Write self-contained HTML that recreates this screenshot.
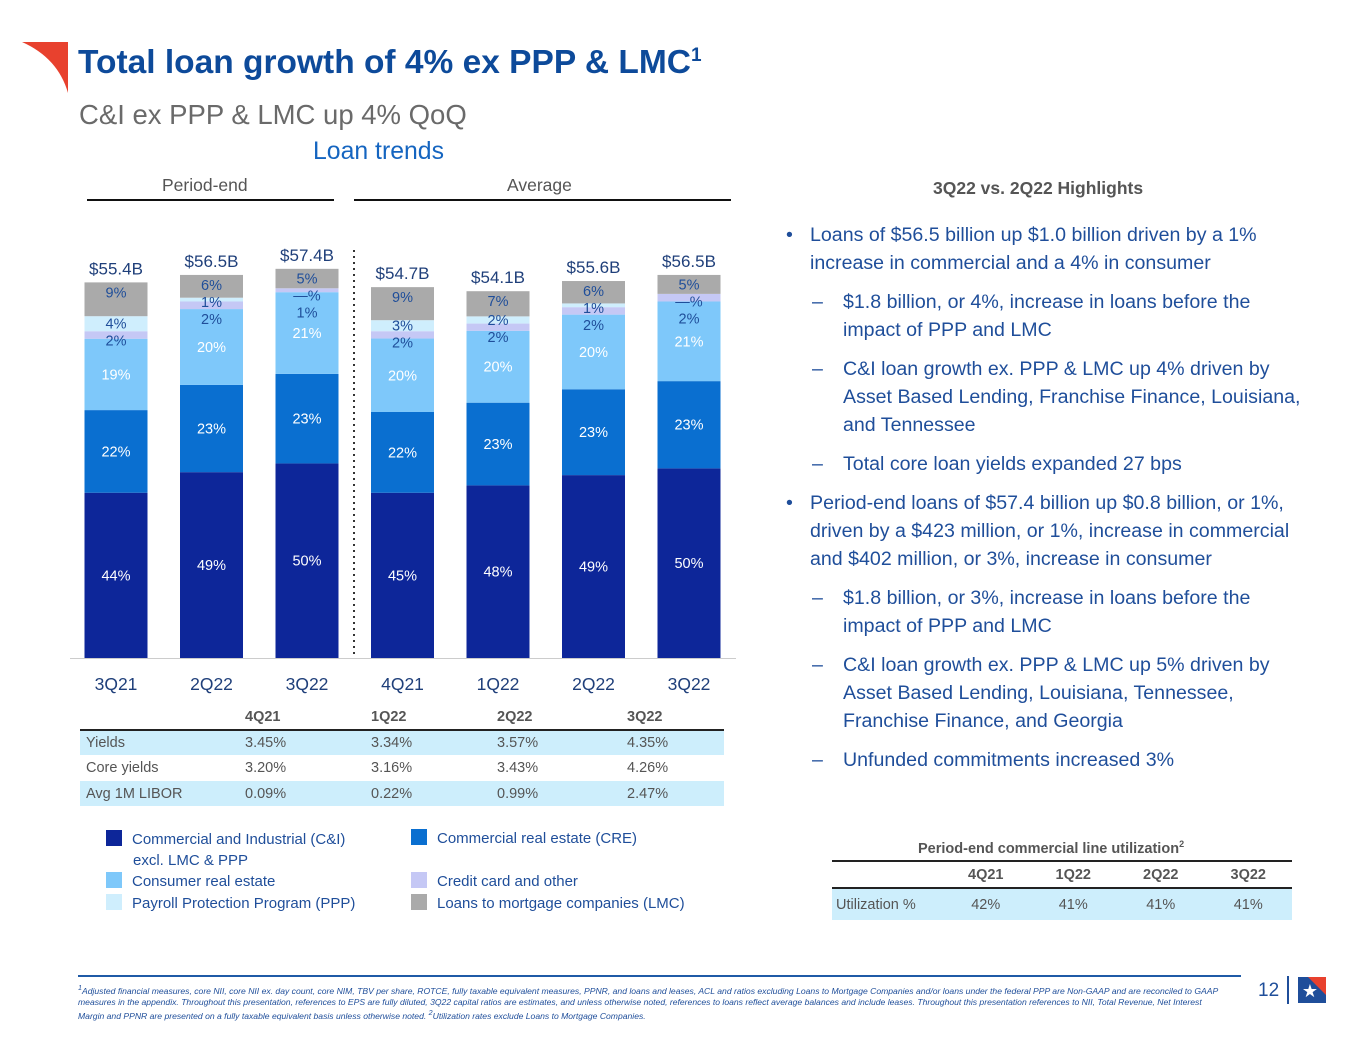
<!DOCTYPE html>
<html><head><meta charset="utf-8">
<style>
body{margin:0;width:1365px;height:1040px;background:#fff;position:relative;overflow:hidden;font-family:"Liberation Sans",sans-serif;}
.a{position:absolute;white-space:nowrap;}
.rt{font-size:19.6px;color:#1f4e9a;}
.tbl td{padding:0;}
</style></head><body>
<svg class="a" style="left:22px;top:40px" width="50" height="55"><path d="M0 2 L46 2 L46 53 Q36 18 0 2Z" fill="#e8412e"/></svg>
<div class="a" style="left:78px;top:44px;font-size:33.5px;font-weight:bold;color:#0d4a9a;letter-spacing:0px">Total loan growth of 4% ex PPP &amp; LMC<sup style="font-size:19px">1</sup></div>
<div class="a" style="left:79px;top:99px;font-size:27.5px;color:#6a6a6a">C&amp;I ex PPP &amp; LMC up 4% QoQ</div>
<div class="a" style="left:313px;top:138px;font-size:24.8px;color:#1565c0">Loan trends</div>
<div class="a" style="left:162px;top:175px;font-size:17.5px;color:#555">Period-end</div>
<div class="a" style="left:507px;top:175px;font-size:17.5px;color:#555">Average</div>

<svg id="chart" class="a" style="left:0;top:0" width="760" height="700"></svg>

<table class="a tbl" style="left:80px;top:705px;width:644px;border-collapse:collapse;font-size:14.5px;color:#555">
<tr style="height:25px;font-weight:bold;border-bottom:2px solid #222"><td style="width:165px"></td><td style="width:126px">4Q21</td><td style="width:126px">1Q22</td><td style="width:130px">2Q22</td><td>3Q22</td></tr>
<tr style="height:25px;background:#cdeefc"><td style="padding-left:6px">Yields</td><td>3.45%</td><td>3.34%</td><td>3.57%</td><td>4.35%</td></tr>
<tr style="height:26px"><td style="padding-left:6px">Core yields</td><td>3.20%</td><td>3.16%</td><td>3.43%</td><td>4.26%</td></tr>
<tr style="height:25px;background:#cdeefc"><td style="padding-left:6px">Avg 1M LIBOR</td><td>0.09%</td><td>0.22%</td><td>0.99%</td><td>2.47%</td></tr>
</table>

<div style="font-size:15px;color:#1f4e9a">
<div class="a" style="left:106px;top:829px;line-height:21px"><span style="display:inline-block;width:16px;height:16px;background:#0d2699;vertical-align:-2px;margin-right:10px"></span>Commercial and Industrial (C&amp;I)<br><span style="margin-left:27px">excl. LMC &amp; PPP</span></div>
<div class="a" style="left:411px;top:829px"><span style="display:inline-block;width:16px;height:16px;background:#0a6fd0;vertical-align:-2px;margin-right:10px"></span>Commercial real estate (CRE)</div>
<div class="a" style="left:106px;top:872px"><span style="display:inline-block;width:16px;height:16px;background:#7ec8fa;vertical-align:-2px;margin-right:10px"></span>Consumer real estate</div>
<div class="a" style="left:411px;top:872px"><span style="display:inline-block;width:16px;height:16px;background:#c5c8f5;vertical-align:-2px;margin-right:10px"></span>Credit card and other</div>
<div class="a" style="left:106px;top:894px"><span style="display:inline-block;width:16px;height:16px;background:#cfeefd;vertical-align:-2px;margin-right:10px"></span>Payroll Protection Program (PPP)</div>
<div class="a" style="left:411px;top:894px"><span style="display:inline-block;width:16px;height:16px;background:#aaaaaa;vertical-align:-2px;margin-right:10px"></span>Loans to mortgage companies (LMC)</div>
</div>

<div class="a" style="left:933px;top:178px;font-size:17.5px;font-weight:bold;color:#555">3Q22 vs. 2Q22 Highlights</div>
<div>
<div class="a rt" style="left:786px;top:224px">•</div>
<div class="a rt" style="left:810px;top:224px">Loans of $56.5 billion up $1.0 billion driven by a 1%</div>
<div class="a rt" style="left:810px;top:252px">increase in commercial and a 4% in consumer</div>
<div class="a rt" style="left:812px;top:291px">–</div>
<div class="a rt" style="left:843px;top:291px">$1.8 billion, or 4%, increase in loans before the</div>
<div class="a rt" style="left:843px;top:319px">impact of PPP and LMC</div>
<div class="a rt" style="left:812px;top:358px">–</div>
<div class="a rt" style="left:843px;top:358px">C&amp;I loan growth ex. PPP &amp; LMC up 4% driven by</div>
<div class="a rt" style="left:843px;top:386px">Asset Based Lending, Franchise Finance, Louisiana,</div>
<div class="a rt" style="left:843px;top:414px">and Tennessee</div>
<div class="a rt" style="left:812px;top:453px">–</div>
<div class="a rt" style="left:843px;top:453px">Total core loan yields expanded 27 bps</div>
<div class="a rt" style="left:786px;top:492px">•</div>
<div class="a rt" style="left:810px;top:492px">Period-end loans of $57.4 billion up $0.8 billion, or 1%,</div>
<div class="a rt" style="left:810px;top:520px">driven by a $423 million, or 1%, increase in commercial</div>
<div class="a rt" style="left:810px;top:548px">and $402 million, or 3%, increase in consumer</div>
<div class="a rt" style="left:812px;top:587px">–</div>
<div class="a rt" style="left:843px;top:587px">$1.8 billion, or 3%, increase in loans before the</div>
<div class="a rt" style="left:843px;top:615px">impact of PPP and LMC</div>
<div class="a rt" style="left:812px;top:654px">–</div>
<div class="a rt" style="left:843px;top:654px">C&amp;I loan growth ex. PPP &amp; LMC up 5% driven by</div>
<div class="a rt" style="left:843px;top:682px">Asset Based Lending, Louisiana, Tennessee,</div>
<div class="a rt" style="left:843px;top:710px">Franchise Finance, and Georgia</div>
<div class="a rt" style="left:812px;top:749px">–</div>
<div class="a rt" style="left:843px;top:749px">Unfunded commitments increased 3%</div>
</div>

<div class="a" style="left:918px;top:839px;font-size:14.5px;font-weight:bold;color:#555">Period-end commercial line utilization<sup style="font-size:9px">2</sup></div>
<table class="a tbl" style="left:832px;top:860px;width:460px;border-collapse:collapse;font-size:14.5px;color:#555;text-align:center">
<tr style="height:27px;font-weight:bold;border-top:2px solid #222;border-bottom:2px solid #222"><td style="width:110px"></td><td>4Q21</td><td>1Q22</td><td>2Q22</td><td>3Q22</td></tr>
<tr style="height:32px;background:#cdeefc"><td style="text-align:left;padding-left:4px">Utilization %</td><td>42%</td><td>41%</td><td>41%</td><td>41%</td></tr>
</table>

<div class="a" style="left:78px;top:975px;width:1163px;height:2px;background:#1f5aa6"></div>
<div class="a" style="left:78px;top:983px;font-size:8.6px;font-style:italic;color:#1f4e9a;line-height:11px;white-space:normal;width:1140px"><sup>1</sup>Adjusted financial measures, core NII, core NII ex. day count, core NIM, TBV per share, ROTCE, fully taxable equivalent measures, PPNR, and loans and leases, ACL and ratios excluding Loans to Mortgage Companies and/or loans under the federal PPP are Non-GAAP and are reconciled to GAAP measures in the appendix. Throughout this presentation, references to EPS are fully diluted, 3Q22 capital ratios are estimates, and unless otherwise noted, references to loans reflect average balances and include leases. Throughout this presentation references to NII, Total Revenue, Net Interest Margin and PPNR are presented on a fully taxable equivalent basis unless otherwise noted. <sup>2</sup>Utilization rates exclude Loans to Mortgage Companies.</div>
<div class="a" style="left:1258px;top:980px;font-size:19px;color:#1f4e9a">12</div>
<div class="a" style="left:1287px;top:976px;width:2px;height:28px;background:#1f4e9a"></div>
<svg class="a" style="left:1298px;top:977px" width="28" height="26"><rect width="28" height="26" fill="#1f4e9a"/><path d="M10 0 L28 0 L28 18Z" fill="#e8412e"/><text x="12" y="20" font-size="18" fill="#fff" text-anchor="middle">★</text></svg>

<script>
const categories=["3Q21","2Q22","3Q22","4Q21","1Q22","2Q22","3Q22"];
const totals=[55.4,56.5,57.4,54.7,54.1,55.6,56.5];
const totalLabels=["$55.4B","$56.5B","$57.4B","$54.7B","$54.1B","$55.6B","$56.5B"];
const ciShare=[44,49,50,45,48,49,50];
const creShare=[22,23,23,22,23,23,23];
const consumerShare=[19,20,21,20,20,20,21];
const cardShare=[2,2,1,2,2,2,2];
const pppShare=[4,1,0,3,2,1,0];
const lmcShare=[9,6,5,9,7,6,5];
const pppLabels=["4%","1%","—%","3%","2%","1%","—%"];

const svg=document.getElementById('chart');
const NS="http://www.w3.org/2000/svg";
const baseY=658, pxPerB=6.78, x0=116, step=95.5, bw=63;
const xPos=i=>x0+i*step;
const yScale=v=>baseY-v*pxPerB;
function mk(tag,attrs){const e=document.createElementNS(NS,tag);for(const k in attrs)e.setAttribute(k,attrs[k]);svg.appendChild(e);return e;}
const series=[
 {name:'ci',vals:ciShare,color:'#0d2699',tc:'#fff'},
 {name:'cre',vals:creShare,color:'#0a6fd0',tc:'#fff'},
 {name:'consumer-re',vals:consumerShare,color:'#7ec8fa',tc:'#fff'},
 {name:'credit-card',vals:cardShare,color:'#c5c8f5',tc:'#1f4e9a'},
 {name:'ppp',vals:pppShare,color:'#cfeefd',tc:'#1f4e9a'},
 {name:'lmc',vals:lmcShare,color:'#aaaaaa',tc:'#1f4e9a'}];
let l1=mk('line',{x1:87,x2:334,y1:200,y2:200,stroke:'#111','stroke-width':2});


let l2=mk('line',{x1:354,x2:731,y1:200,y2:200,stroke:'#111','stroke-width':2});


let ax=mk('line',{x1:70,x2:736,y1:baseY+0.5,y2:baseY+0.5,stroke:'#ccc','stroke-width':1});


let dv=mk('line',{x1:354,x2:354,y1:250,y2:658,stroke:'#333','stroke-width':2,'stroke-dasharray':'2 4'});


categories.forEach((c,i)=>{
 const total=totals[i];
 const sum=series.reduce((s,se)=>s+se.vals[i],0);
 let cum=0;const segs=[];
 series.forEach(se=>{
  const v=se.vals[i];
  const y1=yScale(total*cum/sum), y2=yScale(total*(cum+v)/sum);
  cum+=v;
  const r=mk('rect',{x:xPos(i)-bw/2,y:y2,width:bw,height:Math.max(0,y1-y2),fill:se.color});
  
  
  segs.push({se,v,y1,y2});
 });
 let prev=-1e9;const ys=[];
 for(let k=segs.length-1;k>=0;k--){
  const s=segs[k];let y=(s.y1+s.y2)/2+5;
  if(k>=3) y=Math.max(y,prev+17);
  if(k===5) y=Math.max(s.y2+13,Math.min(y,s.y2+15));
  prev=y;ys[k]=y;
 }
 segs.forEach((s,k)=>{
  const lab=s.se.name==='ppp'?pppLabels[i]:s.v+'%';
  const t=mk('text',{x:xPos(i),y:ys[k],'text-anchor':'middle','font-size':14.5,fill:s.se.tc,'font-family':'Liberation Sans'});
  t.textContent=lab;
  
  
 });
 const tt=mk('text',{x:xPos(i),y:yScale(total)-8,'text-anchor':'middle','font-size':17,fill:'#1f3f7a','font-family':'Liberation Sans'});
 tt.textContent=totalLabels[i];
 
 
 const xl=mk('text',{x:xPos(i),y:690,'text-anchor':'middle','font-size':17.5,fill:'#1f3f7a','font-family':'Liberation Sans'});
 xl.textContent=c;
 
 
});
</script>
</body></html>
